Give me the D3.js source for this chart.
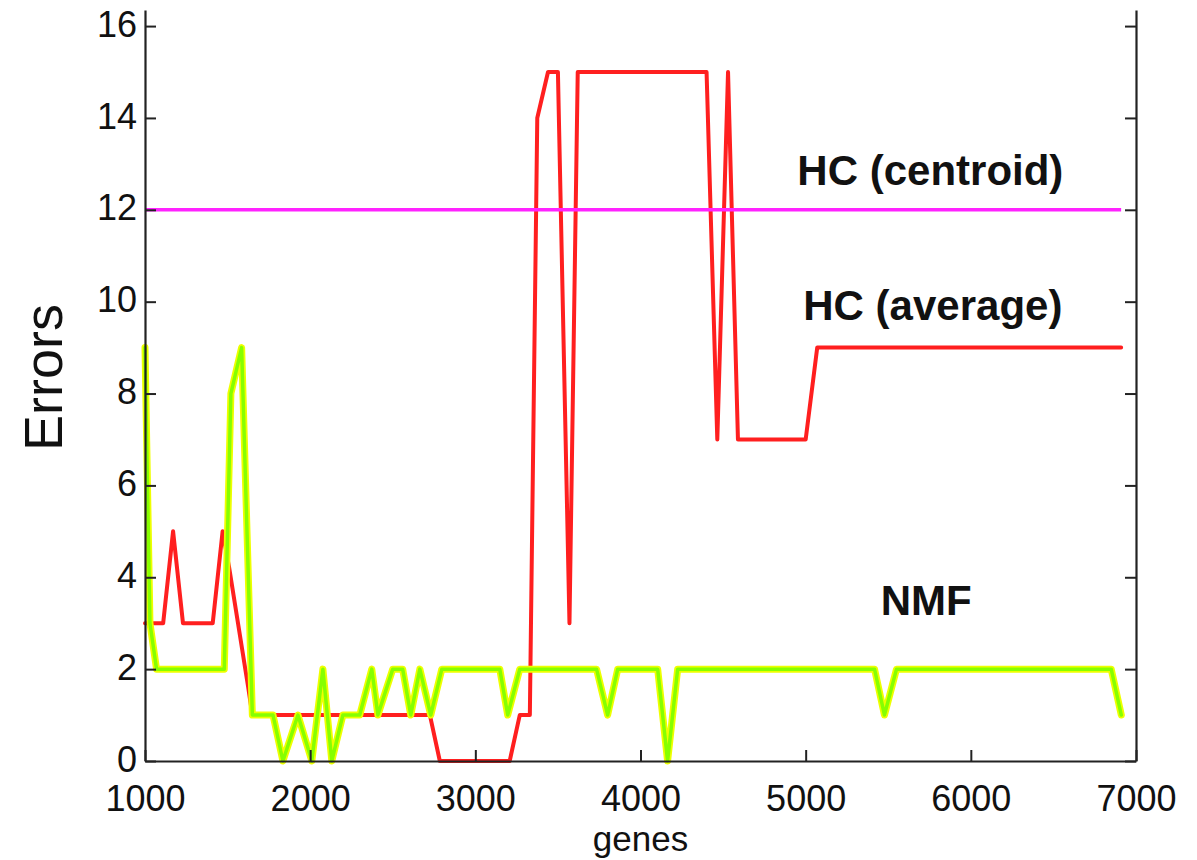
<!DOCTYPE html>
<html>
<head>
<meta charset="utf-8">
<script src="https://cdn.jsdelivr.net/npm/d3@7"></script>
<style>
  html, body { margin: 0; padding: 0; background: #fff; }
  svg { display: block; }
  text { font-family: "Liberation Sans", Arial, Helvetica, sans-serif; fill: #111; }
</style>
</head>
<body>
<svg id="chart" width="1197" height="860"></svg>
<script>
// Clustering errors as a function of the number of genes used
const nmfGenes  = [1000, 1030, 1070, 1480, 1520, 1585, 1650, 1775, 1835, 1926, 2010, 2077, 2131, 2198,
                   2300, 2373, 2410, 2500, 2560, 2609, 2664, 2730, 2797, 3148, 3196, 3269, 3734, 3801,
                   3862, 4104, 4164, 4225, 5417, 5477, 5550, 6850, 6911];
const nmfErrors = [9, 3, 2, 2, 8, 9, 1, 1, 0, 1, 0, 2, 0, 1,
                   1, 2, 1, 2, 2, 1, 2, 1, 2, 2, 1, 2, 2, 1,
                   2, 2, 0, 2, 2, 1, 2, 2, 1];

const hcAverageGenes  = [1000, 1110, 1170, 1230, 1410, 1470, 1510, 1625, 1650, 2725, 2785, 3208, 3269,
                         3330, 3375, 3440, 3500, 3570, 3620, 4400, 4465, 4530, 4590, 5000, 5070, 6910];
const hcAverageErrors = [3, 3, 5, 3, 3, 5, 4.2, 1.6, 1, 1, 0, 0, 1,
                         1, 14, 15, 15, 3, 15, 15, 7, 15, 7, 7, 9, 9];

const hcCentroidGenes  = [1000, 6910];
const hcCentroidErrors = [12, 12];

const xTickValues = [1000, 2000, 3000, 4000, 5000, 6000, 7000];
const yTickValues = [0, 2, 4, 6, 8, 10, 12, 14, 16];

const seriesLabels = [
  { text: "HC (centroid)", gx: 5755, err: 12.54 },
  { text: "HC (average)",  gx: 5770, err: 9.6 },
  { text: "NMF",           gx: 5730, err: 3.17 }
];

const svg = d3.select("#chart");

const x = d3.scaleLinear().domain([1000, 7000]).range([145, 1136]);
const y = d3.scaleLinear().domain([0, 16.35]).range([761, 10]);

const toPoints = (gs, es) => gs.map((g, i) => [g, es[i]]);
const line = d3.line().x(d => x(d[0])).y(d => y(d[1]));

// HC (average)
svg.append("path")
  .attr("d", line(toPoints(hcAverageGenes, hcAverageErrors)))
  .attr("fill", "none").attr("stroke", "#ff1f1f").attr("stroke-width", 4)
  .attr("stroke-linejoin", "round").attr("stroke-linecap", "round");

// HC (centroid)
svg.append("path")
  .attr("d", line(toPoints(hcCentroidGenes, hcCentroidErrors)))
  .attr("fill", "none").attr("stroke", "#ff22ff").attr("stroke-width", 3.5);

// NMF: yellow rim under a lime core
const nmfPath = line(toPoints(nmfGenes, nmfErrors));
svg.append("path").attr("d", nmfPath)
  .attr("fill", "none").attr("stroke", "#eeff00").attr("stroke-width", 7)
  .attr("stroke-linejoin", "round").attr("stroke-linecap", "round");
svg.append("path").attr("d", nmfPath)
  .attr("fill", "none").attr("stroke", "#86ff00").attr("stroke-width", 3.5)
  .attr("stroke-linejoin", "round").attr("stroke-linecap", "round");

// Axes: ticks point inward, MATLAB style
const styleAxis = g => {
  g.select(".domain").attr("stroke", "#222").attr("stroke-width", 2.2);
  g.selectAll(".tick line").attr("stroke", "#222").attr("stroke-width", 2);
  g.selectAll(".tick text").attr("font-size", 36).attr("fill", "#111")
    .attr("font-family", "'Liberation Sans', Arial, Helvetica, sans-serif");
};

svg.append("g")
  .attr("transform", `translate(0,${y(0)})`)
  .call(d3.axisBottom(x).tickValues(xTickValues).tickFormat(d3.format("d"))
        .tickSizeInner(-11).tickSizeOuter(0).tickPadding(24))
  .call(styleAxis);

svg.append("g")
  .attr("transform", `translate(${x(1000)},0)`)
  .call(d3.axisLeft(y).tickValues(yTickValues).tickFormat(d3.format("d"))
        .tickSizeInner(-11).tickSizeOuter(0).tickPadding(8))
  .call(styleAxis)
  .call(g => g.selectAll(".tick text").attr("dy", "0.28em"));

svg.append("g")
  .attr("transform", `translate(${x(7000)},0)`)
  .call(d3.axisRight(y).tickValues(yTickValues).tickFormat("")
        .tickSizeInner(-11).tickSizeOuter(0))
  .call(styleAxis);

// Axis titles
svg.append("text")
  .attr("transform", `translate(62,${(y(0) + y(16.35)) / 2 - 8}) rotate(-90)`)
  .attr("text-anchor", "middle").attr("font-size", 54)
  .text("Errors");

svg.append("text")
  .attr("x", (x(1000) + x(7000)) / 2).attr("y", 851)
  .attr("text-anchor", "middle").attr("font-size", 35)
  .text("genes");

// Series annotations
svg.selectAll("text.series")
  .data(seriesLabels)
  .join("text")
  .attr("class", "series")
  .attr("x", d => x(d.gx)).attr("y", d => y(d.err))
  .attr("text-anchor", "middle").attr("font-size", 42).attr("font-weight", "bold")
  .text(d => d.text);
</script>
</body>
</html>
